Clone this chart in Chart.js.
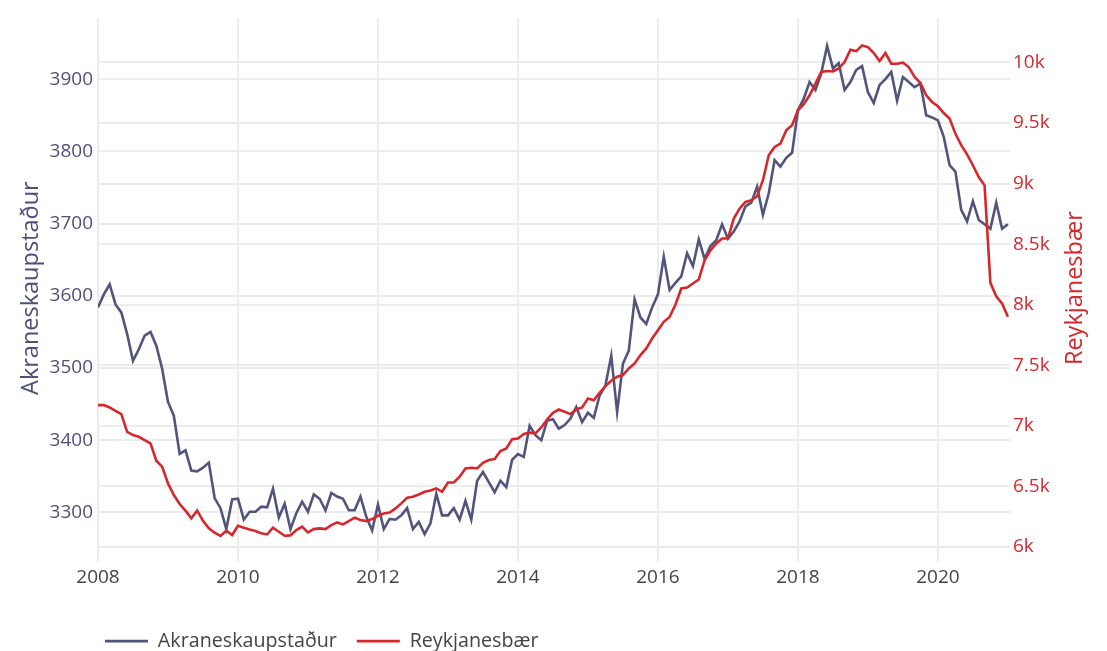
<!DOCTYPE html>
<html>
<head>
<meta charset="utf-8">
<script src="https://cdn.jsdelivr.net/npm/chart.js@4.4.1/dist/chart.umd.min.js"></script>
<style>
html,body{margin:0;padding:0;background:#ffffff;}
#wrap{width:1107px;height:651px;}
</style>
</head>
<body>
<div id="wrap"><canvas id="c" width="1107" height="651"></canvas></div>
<script>
// ---- data (monthly, starting January 2008) ----
const startYear = 2008;
const seriesNames = ['Akraneskaupstaður', 'Reykjanesbær'];
const akranes = [
 3584,3602,3616,3588,3577,3547,3510,3526,3545,3550,3531,3499,
 3453,3434,3381,3386,3358,3357,3362,3369,3320,3306,3277,3318,
 3319,3290,3301,3301,3308,3307,3333,3293,3312,3277,3299,3315,
 3301,3325,3319,3303,3327,3322,3319,3303,3303,3322,3294,3275,
 3311,3277,3291,3290,3296,3306,3277,3287,3270,3285,3326,3296,
 3296,3306,3290,3316,3290,3344,3356,3342,3328,3344,3335,3373,
 3381,3377,3420,3407,3400,3427,3429,3416,3421,3430,3446,3425,
 3438,3431,3462,3476,3517,3439,3506,3524,3595,3570,3561,3584,
 3602,3654,3608,3618,3627,3659,3641,3678,3651,3669,3677,3699,
 3679,3689,3703,3724,3729,3751,3712,3742,3788,3779,3791,3798,
 3857,3873,3896,3885,3908,3946,3915,3922,3885,3896,3913,3918,
 3882,3867,3892,3900,3910,3870,3903,3896,3889,3894,3850,3847,
 3843,3820,3781,3772,3719,3703,3731,3705,3699,3693,3729,3693,
 3699
];
const reykjanes = [
 7171,7171,7152,7124,7097,6951,6924,6910,6882,6855,6712,6663,
 6525,6429,6355,6300,6237,6300,6217,6154,6118,6091,6135,6099,
 6175,6160,6145,6132,6113,6104,6159,6126,6093,6096,6140,6168,
 6121,6148,6154,6148,6181,6203,6187,6214,6242,6223,6214,6231,
 6258,6277,6285,6319,6360,6407,6415,6434,6456,6467,6484,6456,
 6533,6533,6580,6649,6654,6649,6695,6718,6726,6792,6814,6890,
 6895,6933,6944,6938,6987,7053,7108,7135,7116,7097,7135,7152,
 7226,7212,7273,7328,7372,7405,7419,7474,7515,7584,7639,7721,
 7790,7859,7899,8000,8134,8142,8175,8208,8367,8449,8505,8546,
 8546,8711,8793,8848,8861,8895,9027,9233,9302,9330,9439,9481,
 9604,9654,9728,9825,9920,9928,9925,9950,10002,10104,10093,10140,
 10126,10077,10011,10077,9989,9989,9997,9961,9879,9830,9728,9673,
 9637,9582,9536,9412,9316,9241,9151,9054,8985,8180,8070,8010,
 7900
];
const leftTicks = [3300, 3400, 3500, 3600, 3700, 3800, 3900];
const rightTicks = [6000, 6500, 7000, 7500, 8000, 8500, 9000, 9500, 10000];
const xTickYears = [2008, 2010, 2012, 2014, 2016, 2018, 2020];

// ---- style ----
const FONT = '"Open Sans", "Noto Sans", sans-serif';
const BLUE = 'rgb(82,84,124)';
const BLUE_TXT = 'rgb(78,80,122)';
const RED = 'rgb(214,40,44)';
const GRID = '#ececec';
const TICK_SIZE = 19;
const LEGEND_SIZE = 19.7;
const TITLE_SIZE = 23.5;

const toPoints = arr => arr.map((v, i) => ({x: startYear + i / 12, y: v}));

const axisTitlePlugin = {
  id: 'axisTitles',
  afterLayout(chart) {
    // legend row starts under the plot, like the original
    if (chart.legend) { chart.legend.left = 85; }
  },
  afterDraw(chart) {
    const ctx = chart.ctx;
    const ca = chart.chartArea;
    const cy = (ca.top + ca.bottom) / 2 - 2;
    ctx.save();
    ctx.font = TITLE_SIZE + 'px ' + FONT;
    ctx.textAlign = 'center';
    ctx.textBaseline = 'middle';
    ctx.fillStyle = BLUE_TXT;
    ctx.translate(31, cy);
    ctx.rotate(-Math.PI / 2);
    ctx.fillText(seriesNames[0], 0, 0);
    ctx.restore();
    ctx.save();
    ctx.font = TITLE_SIZE + 'px ' + FONT;
    ctx.textAlign = 'center';
    ctx.textBaseline = 'middle';
    ctx.fillStyle = RED;
    ctx.translate(1075, cy);
    ctx.rotate(-Math.PI / 2);
    ctx.fillText(seriesNames[1], 0, 0);
    ctx.restore();
  }
};

const keepTicks = list => scale => {
  scale.ticks = list.map(v => ({value: v}));
};

new Chart(document.getElementById('c'), {
  type: 'line',
  data: {
    datasets: [
      {label: seriesNames[0], data: toPoints(akranes), yAxisID: 'y',
       borderColor: BLUE, backgroundColor: BLUE, borderWidth: 2.6,
       pointRadius: 0, tension: 0, order: 1},
      {label: seriesNames[1], data: toPoints(reykjanes), yAxisID: 'y1',
       borderColor: RED, backgroundColor: RED, borderWidth: 2.6,
       pointRadius: 0, tension: 0, order: 0}
    ]
  },
  options: {
    responsive: false,
    animation: false,
    devicePixelRatio: 1,
    layout: {padding: {left: 0, right: 0, top: 18, bottom: -10}},
    plugins: {
      tooltip: {enabled: false},
      legend: {
        position: 'bottom',
        align: 'start',
        labels: {
          usePointStyle: true,
          pointStyle: 'line',
          pointStyleWidth: 43,
          padding: 20,
          color: '#444',
          font: {family: FONT, size: LEGEND_SIZE},
          sort: (a, b) => a.datasetIndex - b.datasetIndex
        }
      }
    },
    scales: {
      x: {
        type: 'linear',
        min: startYear,
        max: 2021.03,
        afterFit: s => { s.height = 49; },
        afterBuildTicks: keepTicks(xTickYears),
        grid: {color: GRID, lineWidth: 2, drawTicks: false},
        border: {display: false},
        ticks: {color: '#444', padding: 4, maxRotation: 0, autoSkip: false,
                font: {family: FONT, size: TICK_SIZE},
                callback: v => String(v)}
      },
      y: {
        position: 'left',
        min: 3231,
        max: 3984.7,
        afterFit: s => { s.width = 98; },
        afterBuildTicks: keepTicks(leftTicks),
        grid: {color: GRID, lineWidth: 2, drawTicks: false},
        border: {display: false},
        ticks: {color: BLUE_TXT, padding: 5, autoSkip: false,
                font: {family: FONT, size: TICK_SIZE},
                callback: v => String(v)}
      },
      y1: {
        position: 'right',
        min: 5874,
        max: 10366,
        afterFit: s => { s.width = 97; },
        afterBuildTicks: keepTicks(rightTicks),
        grid: {color: GRID, lineWidth: 2, drawTicks: false},
        border: {display: false},
        ticks: {color: RED, padding: 3, autoSkip: false,
                font: {family: FONT, size: TICK_SIZE},
                callback: v => (v / 1000) + 'k'}
      }
    }
  },
  plugins: [axisTitlePlugin]
});
</script>
</body>
</html>
